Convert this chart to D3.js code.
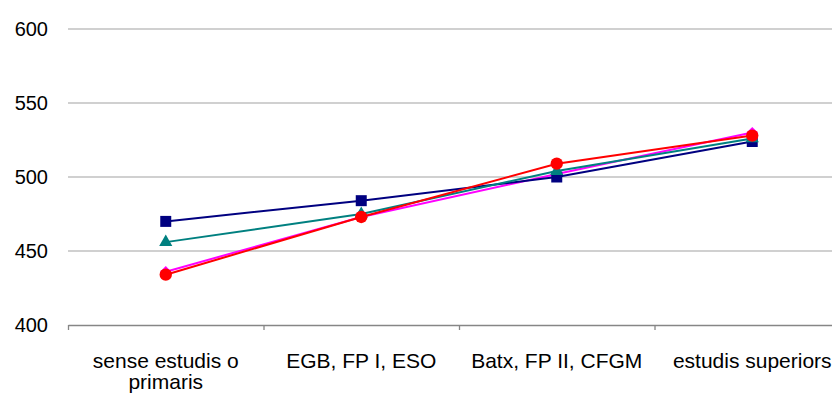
<!DOCTYPE html>
<html>
<head>
<meta charset="utf-8">
<script src="https://cdn.jsdelivr.net/npm/d3@7/dist/d3.min.js"></script>
<style>
  html, body { margin: 0; padding: 0; background: #ffffff; }
  svg { display: block; }
  text { font-family: "Liberation Sans", Arial, sans-serif; fill: #000; }
</style>
</head>
<body>
<svg id="chart" width="832" height="394"></svg>
<script>
const categories = ["sense estudis o primaris", "EGB, FP I, ESO", "Batx, FP II, CFGM", "estudis superiors"];
const yTicks = [400, 450, 500, 550, 600];
const seriesNames = ["Sèrie 1", "Sèrie 2", "Sèrie 3", "Sèrie 4"];
const navyValues = [470, 484, 500, 524];
const tealValues = [456, 475, 504, 526];
const magentaValues = [436, 473, 502, 530];
const redValues = [434, 473, 509, 528];

// drawing order: magenta underneath, red on top
const series = [
  { name: seriesNames[2], values: magentaValues, color: "#ff00ff", symbol: d3.symbolSquare, size: 64, rotate: 45 },
  { name: seriesNames[0], values: navyValues, color: "#000080", symbol: d3.symbolSquare, size: 121, rotate: 0 },
  { name: seriesNames[1], values: tealValues, color: "#008080", symbol: d3.symbolTriangle, size: 75, rotate: 0 },
  { name: seriesNames[3], values: redValues, color: "#ff0000", symbol: d3.symbolCircle, size: 120, rotate: 0 }
];

const svg = d3.select("#chart");
const mLeft = 68, mRight = 850, mTop = 29, mBottom = 325;

const x = d3.scaleBand().domain(categories).range([mLeft, mRight]).padding(0);
const y = d3.scaleLinear().domain([400, 600]).range([mBottom, mTop]);
const cx = c => x(c) + x.bandwidth() / 2;

// gridlines
svg.append("g").selectAll("line")
  .data(yTicks.filter(t => t !== 400))
  .join("line")
  .attr("x1", mLeft).attr("x2", mRight)
  .attr("y1", d => y(d)).attr("y2", d => y(d))
  .attr("stroke", "#c0c0c0").attr("stroke-width", 1.3);

// y axis labels
const yAxis = d3.axisLeft(y).tickValues(yTicks).tickSize(0).tickPadding(20);
const gy = svg.append("g").attr("transform", `translate(${mLeft},0)`).call(yAxis);
gy.select(".domain").remove();
gy.selectAll("text").attr("font-size", 20).attr("font-family", null);

// x axis line with boundary ticks
const xb = d3.scaleLinear().domain([0, categories.length]).range([mLeft, mRight]);
const xAxis = d3.axisBottom(xb).tickValues(d3.range(categories.length + 1)).tickSize(5).tickSizeOuter(0).tickFormat("");
const gx = svg.append("g").attr("transform", `translate(0,${mBottom})`).call(xAxis);
gx.select(".domain").attr("stroke", "#868686").attr("stroke-width", 1.5);
gx.selectAll(".tick line").attr("stroke", "#868686").attr("stroke-width", 1.3);

// x labels (wrapped)
const labelG = svg.append("g");
categories.forEach(c => {
  const t = labelG.append("text")
    .attr("x", cx(c)).attr("y", 368)
    .attr("text-anchor", "middle").attr("font-size", 21);
  const words = c.split(" ");
  let line = [], lines = [];
  const probe = t.append("tspan");
  words.forEach(w => {
    line.push(w);
    probe.text(line.join(" "));
    if (probe.node().getComputedTextLength() > x.bandwidth() - 8 && line.length > 1) {
      line.pop();
      lines.push(line.join(" "));
      line = [w];
    }
  });
  lines.push(line.join(" "));
  probe.remove();
  lines.forEach((l, i) => {
    t.append("tspan").attr("x", cx(c)).attr("dy", i === 0 ? 0 : 21).text(l);
  });
});

// series
const lineGen = d3.line().x((d, i) => cx(categories[i])).y(d => y(d));
series.forEach(s => {
  const g = svg.append("g");
  g.append("path")
    .attr("d", lineGen(s.values))
    .attr("fill", "none")
    .attr("stroke", s.color)
    .attr("stroke-width", 2);
  g.selectAll("path.m")
    .data(s.values)
    .join("path")
    .attr("class", "m")
    .attr("transform", (d, i) => `translate(${cx(categories[i])},${y(d)}) rotate(${s.rotate})`)
    .attr("d", d3.symbol().type(s.symbol).size(s.size))
    .attr("fill", s.color);
});
</script>
</body>
</html>
